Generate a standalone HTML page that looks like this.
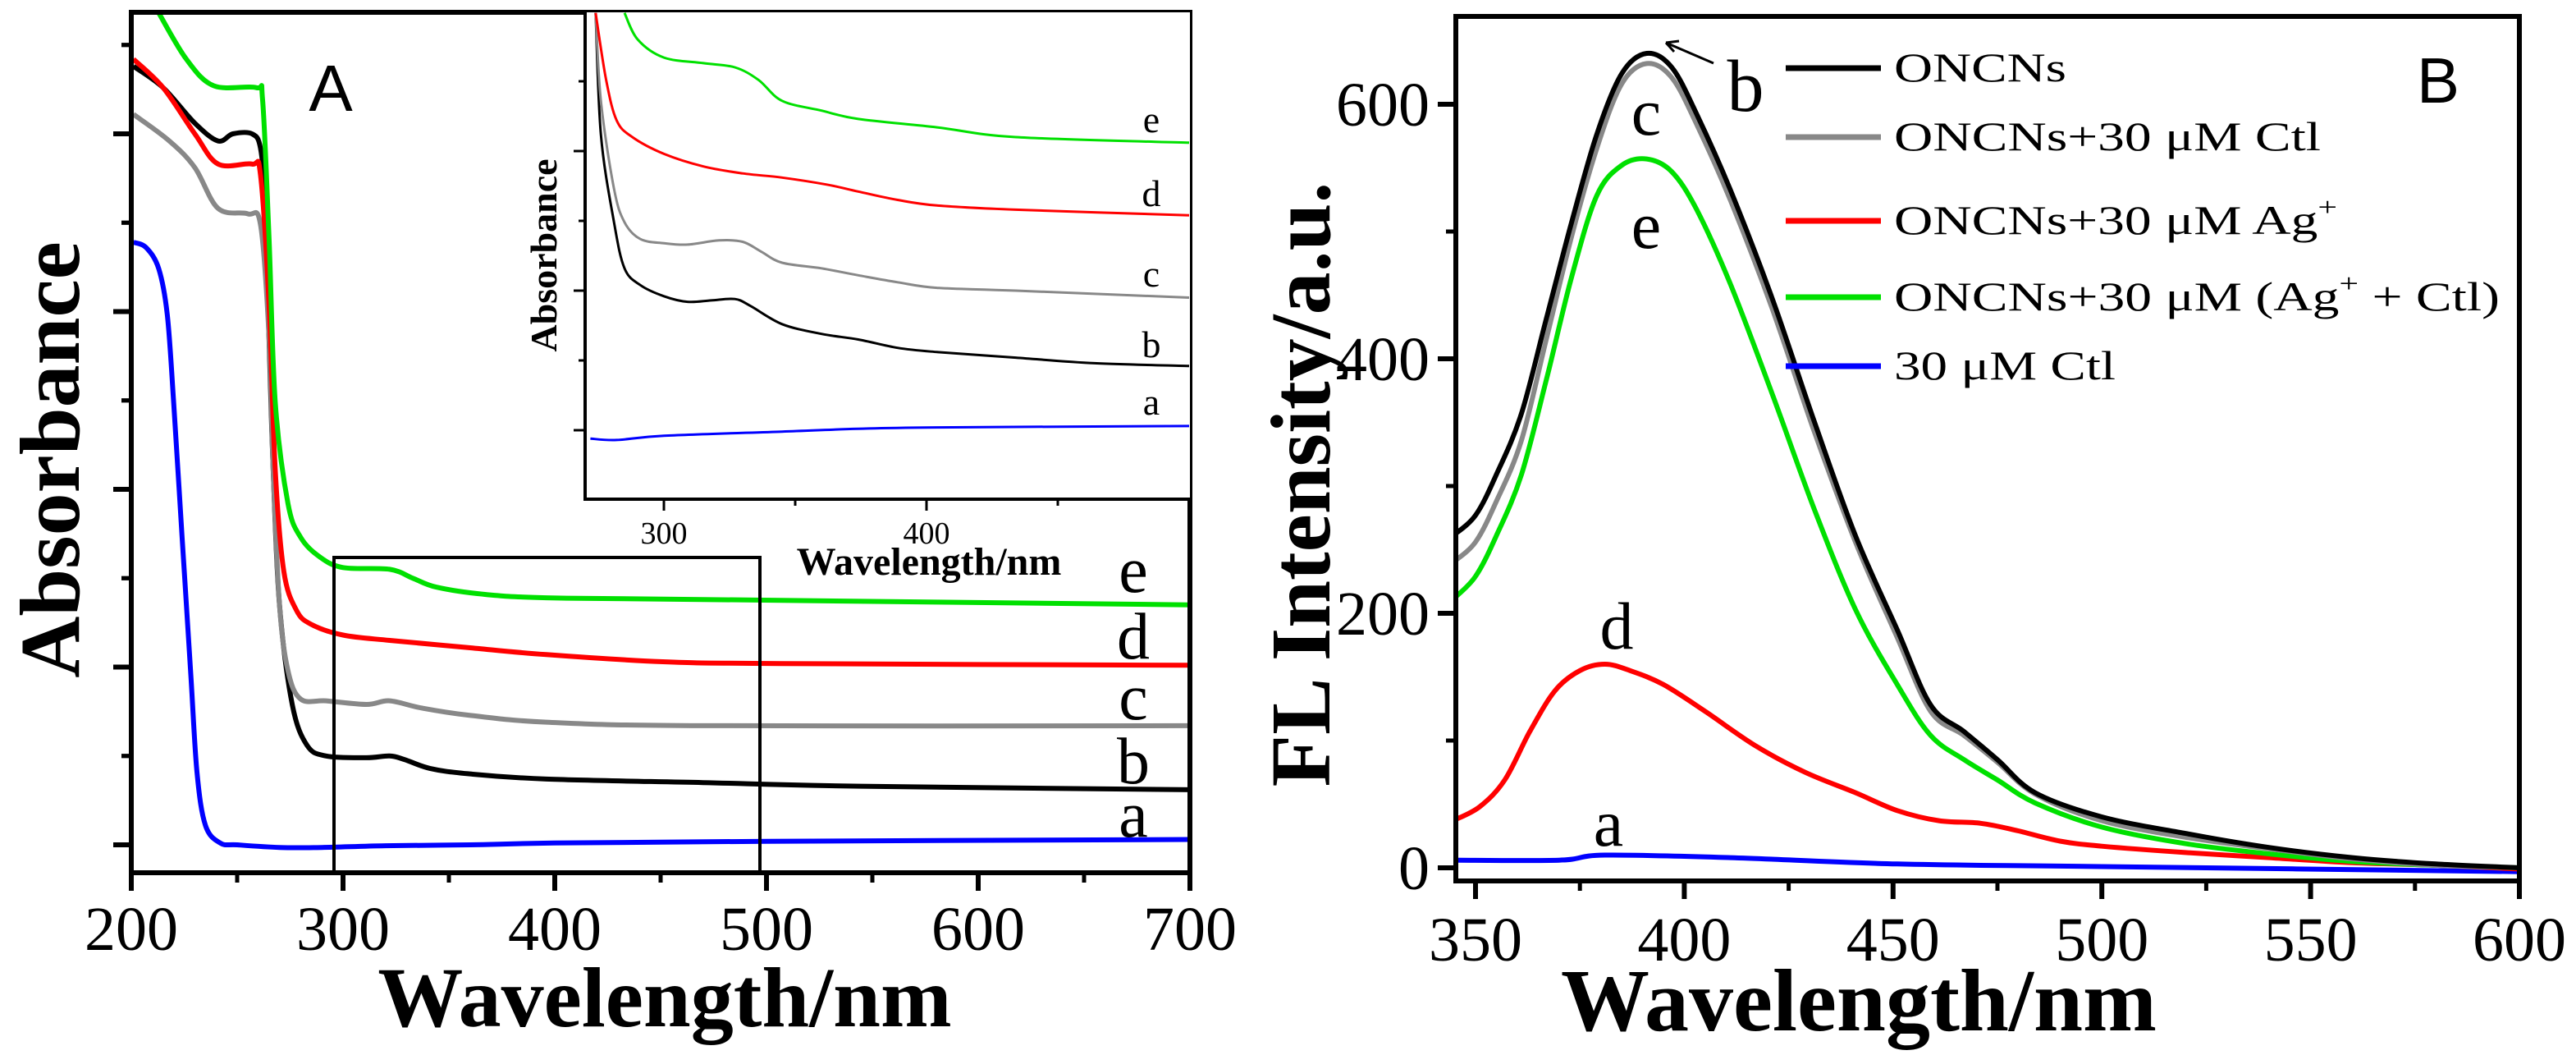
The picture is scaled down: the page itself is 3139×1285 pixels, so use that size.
<!DOCTYPE html>
<html><head><meta charset="utf-8"><style>
html,body{margin:0;padding:0;background:#fff;}
svg{display:block;}
text{font-family:"Liberation Serif",serif;fill:#000;}
</style></head><body>
<svg id="fig" width="3139" height="1285" viewBox="0 0 3139 1285" xmlns="http://www.w3.org/2000/svg"></svg>
<script>
// ---------- Panel A data (absorbance, arbitrary units) ----------
const aSeriesNames = ["a","b","c","d","e"];
const aColors = ["#0000ff","#000000","#888888","#ff0000","#00e000"];
const aX_a = [201,207,213,217,220,224,228,231,235,242,250,270,290,320,360,400,500,700];
const aY_a = [3.39,3.36,3.24,2.98,2.49,1.73,0.98,0.41,0.11,0.01,0,-0.015,-0.015,-0.005,0,0.01,0.02,0.03];
const aX_b = [201,215,230,241,248,257,261,263,265,267,270,276,283,292,311,322,329,341,359,396,470,544,700];
const aY_b = [4.38,4.26,4.06,3.96,4.0,4.0,3.92,3.62,2.87,2.11,1.35,0.79,0.56,0.50,0.49,0.50,0.48,0.43,0.40,0.37,0.35,0.33,0.31];
const aX_c = [201,218,230,241,255,261,265,267,270,274,280,292,311,322,337,359,396,470,700];
const aY_c = [4.11,3.96,3.81,3.58,3.55,3.49,2.87,2.11,1.35,0.98,0.82,0.81,0.79,0.81,0.77,0.73,0.69,0.67,0.67];
const aX_d = [201,215,230,241,257,261,265,268,272,278,285,300,322,359,396,451,507,700];
const aY_d = [4.42,4.26,4.0,3.83,3.83,3.77,3.05,2.11,1.54,1.32,1.24,1.18,1.15,1.11,1.07,1.03,1.02,1.01];
const aX_e = [213,226,239,259,262,265,268,274,280,289,300,322,333,344,366,396,470,700];
const aY_e = [4.68,4.42,4.27,4.26,4.19,3.43,2.49,1.92,1.73,1.62,1.56,1.55,1.50,1.45,1.41,1.39,1.38,1.35];
const aXTicks = [200,300,400,500,600,700];
const aYTicks = [0,1,2,3,4];
// ---------- Inset data ----------
const iX_a = [272,282,300,345,374,404,500];
const iY_a = [-0.06,-0.07,-0.04,-0.01,0.01,0.02,0.03];
const iX_b = [274,276,281,285,291,300,309,318,327,333,345,360,374,389,404,434,464,500];
const iY_b = [2.99,2.12,1.49,1.16,1.04,0.96,0.92,0.93,0.94,0.89,0.76,0.69,0.65,0.59,0.56,0.52,0.48,0.46];
const iX_c = [274,276,281,285,291,300,309,321,330,337,345,360,374,389,404,434,500];
const iY_c = [2.99,2.36,1.73,1.49,1.37,1.34,1.33,1.36,1.35,1.28,1.20,1.16,1.11,1.06,1.02,1.0,0.95];
const iX_d = [274,278,282,288,300,315,330,345,362,374,389,404,434,500];
const iY_d = [2.99,2.51,2.22,2.10,1.98,1.89,1.84,1.81,1.76,1.71,1.65,1.61,1.58,1.54];
const iX_e = [285,290,300,315,327,336,345,360,374,404,434,500];
const iY_e = [2.99,2.80,2.67,2.63,2.60,2.51,2.36,2.29,2.23,2.17,2.10,2.06];
const iXTicks = [300,400];
// ---------- Panel B data (FL intensity) ----------
const bX_peak = [344.6,350,355,361,367,373,379,385,391,397,403,411,421,431,441,451,459,467,475,484,500,520,540,560,580,600];
const bY_b = [261,277,309,357,432,507,576,624,640,629,592,533,448,352,261,187,128,107,85,59,40,27,16,8,3,0];
const bY_c = [240,256,288,336,416,496,565,616,632,621,584,525,440,344,256,181,123,104,83,58,37,24,15,7,2,0];
const bY_e = [211,229,261,309,384,464,528,552,557,547,517,459,373,283,203,144,104,85,69,51,32,19,11,5,2,0];
const bX_d = [344.6,351,357,363,369,375,381,387,395,405,417,429,441,451,461,471,480,490,500,520,540,560,580,600];
const bY_d = [37,48,69,107,139,155,160,155,144,123,96,75,59,45,37,35,29,21,17,12,8,4,2,-1];
const bX_a = [344.6,370,381,411,451,500,600];
const bY_a = [6,6,10,8,3,1,-3];
const bXTicks = [350,400,450,500,550,600];
const bYTicks = [0,200,400,600];
const legendLabels = ["ONCNs","ONCNs+30 μM Ctl","ONCNs+30 μM Ag+","ONCNs+30 μM (Ag+ + Ctl)","30 μM Ctl"];

const NS="http://www.w3.org/2000/svg";
const svg=document.getElementById('fig');
function mk(tag,attrs,parent){const e=document.createElementNS(NS,tag);for(const k in attrs)e.setAttribute(k,attrs[k]);(parent||svg).appendChild(e);return e;}
function lin(d0,d1,p0,p1){return v=>p0+(v-d0)*(p1-p0)/(d1-d0);}

const axA=lin(200,700,160,1450), ayA=lin(0,4,1029,163);
const axI=lin(300,400,809,1129), ayI=lin(0,1,524,354);
const axB=lin(350,600,1798,3070), ayB=lin(0,600,1057,127);

// smooth path (Catmull-Rom -> cubic Bezier)
function pathD(xs,ys,fx,fy){
  const P=xs.map((x,i)=>[fx(x),fy(ys[i])]);
  let d='M'+P[0][0].toFixed(1)+' '+P[0][1].toFixed(1);
  for(let i=0;i<P.length-1;i++){
    const p0=P[Math.max(0,i-1)],p1=P[i],p2=P[i+1],p3=P[Math.min(P.length-1,i+2)];
    const t=1/6;
    const c1=[p1[0]+(p2[0]-p0[0])*t,p1[1]+(p2[1]-p0[1])*t];
    const c2=[p2[0]-(p3[0]-p1[0])*t,p2[1]-(p3[1]-p1[1])*t];
    d+=' C'+c1[0].toFixed(1)+' '+c1[1].toFixed(1)+' '+c2[0].toFixed(1)+' '+c2[1].toFixed(1)+' '+p2[0].toFixed(1)+' '+p2[1].toFixed(1);
  }
  return d;
}

// ===== Panel A =====
const gA=mk('g',{});


const clipA=mk('clipPath',{id:'clipA'});mk('rect',{x:160,y:15,width:1290,height:1048},clipA);
const curvesA=mk('g',{'clip-path':'url(#clipA)'},gA);
const aXs=[aX_a,aX_b,aX_c,aX_d,aX_e], aYs=[aY_a,aY_b,aY_c,aY_d,aY_e];
for(let i=0;i<5;i++){
  const p=mk('path',{d:pathD(aXs[i],aYs[i],axA,ayA),fill:'none',stroke:aColors[i],'stroke-width':6,'stroke-linejoin':'round'},curvesA);
  
  
}
const frA=mk('rect',{x:160,y:15,width:1290,height:1048,fill:'none',stroke:'#000','stroke-width':6},gA);


aXTicks.forEach((t,i)=>{
  const x=axA(t);
  const tk=mk('line',{x1:x,x2:x,y1:1063,y2:1085,stroke:'#000','stroke-width':6},gA);
  
  
  if(i<aXTicks.length-1){const m=mk('line',{x1:axA(t+50),x2:axA(t+50),y1:1063,y2:1075,stroke:'#000','stroke-width':5},gA);
  
  }
  const lb=mk('text',{x:x,y:1157,'font-size':76,'text-anchor':'middle'},gA);lb.textContent=t;
  
  
});
aYTicks.forEach(t=>{
  const y=ayA(t);
  const tk=mk('line',{x1:138,x2:160,y1:y,y2:y,stroke:'#000','stroke-width':6},gA);
  
  
  [0.5,-0.5].forEach(o=>{const v=t+o; if(ayA(v)>20&&ayA(v)<1060){const m=mk('line',{x1:148,x2:160,y1:ayA(v),y2:ayA(v),stroke:'#000','stroke-width':5},gA);
  
  }});
});
const mt=mk('line',{x1:148,x2:160,y1:ayA(4.5),y2:ayA(4.5),stroke:'#000','stroke-width':5},gA);


const zr=mk('rect',{x:407,y:679,width:519,height:384,fill:'none',stroke:'#000','stroke-width':4},gA);


const aLabelY=[994,929,851,777,696];
aSeriesNames.forEach((n,i)=>{
  const t=mk('text',{x:1381,y:aLabelY[i]+25,'font-size':80,'text-anchor':'middle'},gA);t.textContent=n;
  
  
});
const pa=mk('text',{x:403,y:135,'font-size':80,'text-anchor':'middle',style:'font-family:"Liberation Sans",sans-serif'},gA);pa.textContent='A';


const xtA=mk('text',{x:810,y:1250,'font-size':104,'font-weight':'bold','text-anchor':'middle'},gA);xtA.textContent='Wavelength/nm';


const ytA=mk('text',{x:0,y:0,'font-size':104,'font-weight':'bold','text-anchor':'middle',transform:'translate(96,560) rotate(-90)'},gA);ytA.textContent='Absorbance';



// ===== Inset =====
const gI=mk('g',{});


mk('rect',{x:713,y:15,width:737,height:593,fill:'#fff'},gI);
const clipI=mk('clipPath',{id:'clipI'});mk('rect',{x:713,y:15,width:737,height:593},clipI);
const curvesI=mk('g',{'clip-path':'url(#clipI)'},gI);
const iXs=[iX_a,iX_b,iX_c,iX_d,iX_e], iYs=[iY_a,iY_b,iY_c,iY_d,iY_e];
for(let i=0;i<5;i++){
  const p=mk('path',{d:pathD(iXs[i],iYs[i],axI,ayI),fill:'none',stroke:aColors[i],'stroke-width':3,'stroke-linejoin':'round'},curvesI);
  
  
}
const frI=mk('path',{d:'M713 15 L713 608 L1450 608',fill:'none',stroke:'#000','stroke-width':4},gI);


iXTicks.forEach(t=>{
  const x=axI(t);
  const tk=mk('line',{x1:x,x2:x,y1:608,y2:622,stroke:'#000','stroke-width':3},gI);
  
  
  const m=mk('line',{x1:axI(t+50),x2:axI(t+50),y1:608,y2:616,stroke:'#000','stroke-width':3},gI);
  
  
  const lb=mk('text',{x:x,y:662,'font-size':38,'text-anchor':'middle'},gI);lb.textContent=t;
  
  
});
[0,1,2].forEach(t=>{
  const tk=mk('line',{x1:699,x2:713,y1:ayI(t),y2:ayI(t),stroke:'#000','stroke-width':3},gI);
  
  
  const m=mk('line',{x1:705,x2:713,y1:ayI(t+0.5),y2:ayI(t+0.5),stroke:'#000','stroke-width':3},gI);
  
  
});
const iLabelY=[491,421,335,237,147];
aSeriesNames.forEach((n,i)=>{
  const t=mk('text',{x:1403,y:iLabelY[i]+14,'font-size':46,'text-anchor':'middle'},gI);t.textContent=n;
  
  
});
const ixt=mk('text',{x:1132,y:700,'font-size':48,'font-weight':'bold','text-anchor':'middle'},gI);ixt.textContent='Wavelength/nm';


const iyt=mk('text',{x:0,y:0,'font-size':46,'font-weight':'bold','text-anchor':'middle',transform:'translate(678,311) rotate(-90)'},gI);iyt.textContent='Absorbance';



// ===== Panel B =====
const gB=mk('g',{});


const clipB=mk('clipPath',{id:'clipB'});mk('rect',{x:1774,y:20,width:1296,height:1053},clipB);
const curvesB=mk('g',{'clip-path':'url(#clipB)'},gB);
const bSeries=[[bX_a,bY_a,'#0000ff','a'],[bX_d,bY_d,'#ff0000','d'],[bX_peak,bY_e,'#00e000','e'],[bX_peak,bY_c,'#888888','c'],[bX_peak,bY_b,'#000000','b']];
bSeries.forEach(s=>{
  const p=mk('path',{d:pathD(s[0],s[1],axB,ayB),fill:'none',stroke:s[2],'stroke-width':6,'stroke-linejoin':'round'},curvesB);
  
  
});
const frB=mk('rect',{x:1774,y:20,width:1296,height:1053,fill:'none',stroke:'#000','stroke-width':6},gB);


bXTicks.forEach((t,i)=>{
  const x=axB(t);
  const tk=mk('line',{x1:x,x2:x,y1:1073,y2:1095,stroke:'#000','stroke-width':6},gB);
  
  
  if(i<bXTicks.length-1){const m=mk('line',{x1:axB(t+25),x2:axB(t+25),y1:1073,y2:1085,stroke:'#000','stroke-width':5},gB);
  
  }
  const lb=mk('text',{x:x,y:1170,'font-size':76,'text-anchor':'middle'},gB);lb.textContent=t;
  
  
});
bYTicks.forEach(t=>{
  const y=ayB(t);
  const tk=mk('line',{x1:1752,x2:1774,y1:y,y2:y,stroke:'#000','stroke-width':6},gB);
  
  
  const m=mk('line',{x1:1762,x2:1774,y1:ayB(t+100),y2:ayB(t+100),stroke:'#000','stroke-width':5},gB);
  
  
  const lb=mk('text',{x:1742,y:y+26,'font-size':76,'text-anchor':'end'},gB);lb.textContent=t;
  
  
});
const xtB=mk('text',{x:2265,y:1255,'font-size':108,'font-weight':'bold','text-anchor':'middle'},gB);xtB.textContent='Wavelength/nm';


const ytB=mk('text',{x:0,y:0,'font-size':104,'font-weight':'bold','text-anchor':'middle',transform:'translate(1620,590) rotate(-90)'},gB);ytB.textContent='FL Intensity/a.u.';


const pb=mk('text',{x:2971,y:125,'font-size':78,'text-anchor':'middle',style:'font-family:"Liberation Sans",sans-serif'},gB);pb.textContent='B';


const bLabels=[['b',2127,135,90],['c',2006,164,82],['e',2006,302,82],['d',1970,790,82],['a',1960,1030,82]];
bLabels.forEach(l=>{
  const t=mk('text',{x:l[1],y:l[2],'font-size':l[3],'text-anchor':'middle'},gB);t.textContent=l[0];
  
  
});
const arr=mk('path',{d:'M2088 77 L2030 52 M2030 52 L2046 50 M2030 52 L2040 63',fill:'none',stroke:'#000','stroke-width':3},gB);


const legColors=['#000000','#888888','#ff0000','#00e000','#0000ff'];
const legY=[83,167,269,362,446];
const legW=[210,520,540,738,270];
const leg=mk('g',{},gB);


legendLabels.forEach((lab,i)=>{
  const ln=mk('line',{x1:2176,x2:2292,y1:legY[i],y2:legY[i],stroke:legColors[i],'stroke-width':7},leg);
  
  
  const t=mk('text',{x:2308,y:legY[i]+16,'font-size':50,textLength:legW[i],lengthAdjust:'spacingAndGlyphs'},leg);
  
  
  if(lab.indexOf('Ag+')>=0){
    const parts=lab.split('Ag+');
    t.appendChild(document.createTextNode(parts[0]+'Ag'));
    const sup=mk('tspan',{dy:-22,'font-size':32},t);sup.textContent='+';
    const rest=mk('tspan',{dy:22,'font-size':50},t);rest.textContent=parts[1]||' ';
  } else t.textContent=lab;
});
</script>
</body></html>
